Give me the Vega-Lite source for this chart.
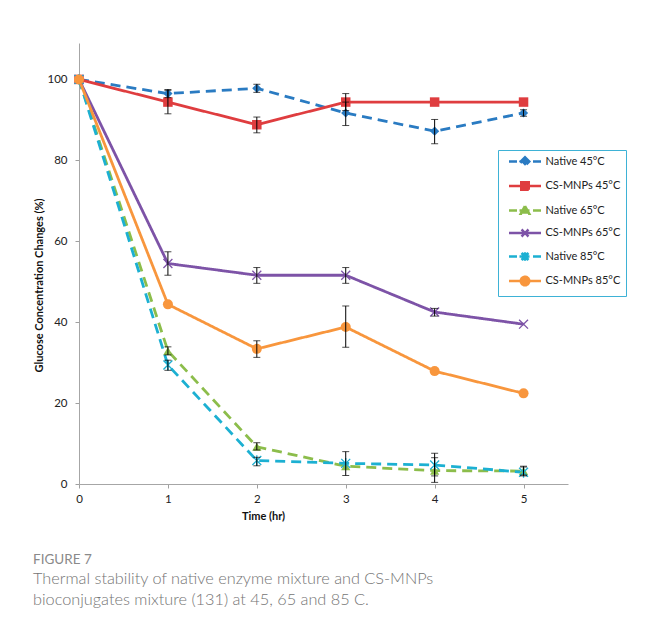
{
  "$schema": "https://vega.github.io/schema/vega-lite/v6.json",
  "width": 489,
  "height": 441,
  "autosize": {"type": "none"},
  "padding": {"left": 79, "top": 43, "right": 78, "bottom": 149},
  "background": "white",
  "config": {"view": {"stroke": null}},
  "title": {
    "text": "FIGURE 7",
    "subtitle": ["Thermal stability of native enzyme mixture and CS-MNPs", "bioconjugates mixture (131) at 45, 65 and 85 C."],
    "orient": "bottom",
    "anchor": "start",
    "frame": "group",
    "dx": -46,
    "offset": 32,
    "font": "Lato",
    "fontSize": 13.5,
    "fontWeight": "normal",
    "color": "#8a8a8a",
    "subtitleFont": "Lato",
    "subtitleFontSize": 16.3,
    "subtitleFontWeight": 300,
    "subtitleColor": "#747474",
    "subtitlePadding": 4,
    "subtitleLineHeight": 21.5
  },
  "data": {
    "values": [
      {"series": "Native 45°C", "time": 0, "value": 100, "lo": null, "hi": null},
      {"series": "Native 45°C", "time": 1, "value": 96.5, "lo": 95.5, "hi": 97.5},
      {"series": "Native 45°C", "time": 2, "value": 97.8, "lo": 96.8, "hi": 98.8},
      {"series": "Native 45°C", "time": 3, "value": 91.7, "lo": 88.6, "hi": 94.4},
      {"series": "Native 45°C", "time": 4, "value": 87.2, "lo": 84.1, "hi": 90.1},
      {"series": "Native 45°C", "time": 5, "value": 91.7, "lo": 90.9, "hi": 92.5},
      {"series": "CS-MNPs 45°C", "time": 0, "value": 100, "lo": null, "hi": null},
      {"series": "CS-MNPs 45°C", "time": 1, "value": 94.4, "lo": 91.5, "hi": 97.3},
      {"series": "CS-MNPs 45°C", "time": 2, "value": 88.8, "lo": 86.8, "hi": 90.7},
      {"series": "CS-MNPs 45°C", "time": 3, "value": 94.4, "lo": 92.3, "hi": 96.5},
      {"series": "CS-MNPs 45°C", "time": 4, "value": 94.4, "lo": null, "hi": null},
      {"series": "CS-MNPs 45°C", "time": 5, "value": 94.4, "lo": null, "hi": null},
      {"series": "Native 65°C", "time": 0, "value": 100, "lo": null, "hi": null},
      {"series": "Native 65°C", "time": 1, "value": 32.9, "lo": 31.9, "hi": 33.9},
      {"series": "Native 65°C", "time": 2, "value": 9.2, "lo": 8.4, "hi": 10.2},
      {"series": "Native 65°C", "time": 3, "value": 4.4, "lo": 2.1, "hi": 8.0},
      {"series": "Native 65°C", "time": 4, "value": 3.3, "lo": 0.4, "hi": 6.5},
      {"series": "Native 65°C", "time": 5, "value": 3.2, "lo": 2.2, "hi": 4.2},
      {"series": "CS-MNPs 65°C", "time": 0, "value": 100, "lo": null, "hi": null},
      {"series": "CS-MNPs 65°C", "time": 1, "value": 54.5, "lo": 51.6, "hi": 57.4},
      {"series": "CS-MNPs 65°C", "time": 2, "value": 51.6, "lo": 49.6, "hi": 53.5},
      {"series": "CS-MNPs 65°C", "time": 3, "value": 51.6, "lo": 49.6, "hi": 53.5},
      {"series": "CS-MNPs 65°C", "time": 4, "value": 42.5, "lo": 41.5, "hi": 43.4},
      {"series": "CS-MNPs 65°C", "time": 5, "value": 39.5, "lo": null, "hi": null},
      {"series": "Native 85°C", "time": 0, "value": 100, "lo": null, "hi": null},
      {"series": "Native 85°C", "time": 1, "value": 29.4, "lo": 28.1, "hi": 30.6},
      {"series": "Native 85°C", "time": 2, "value": 5.8, "lo": 4.5, "hi": 6.6},
      {"series": "Native 85°C", "time": 3, "value": 5.1, "lo": null, "hi": null},
      {"series": "Native 85°C", "time": 4, "value": 4.7, "lo": 2.0, "hi": 7.6},
      {"series": "Native 85°C", "time": 5, "value": 2.9, "lo": 2.0, "hi": 4.4},
      {"series": "CS-MNPs 85°C", "time": 0, "value": 100, "lo": null, "hi": null},
      {"series": "CS-MNPs 85°C", "time": 1, "value": 44.4, "lo": null, "hi": null},
      {"series": "CS-MNPs 85°C", "time": 2, "value": 33.4, "lo": 31.3, "hi": 35.4},
      {"series": "CS-MNPs 85°C", "time": 3, "value": 38.8, "lo": 33.8, "hi": 44.0},
      {"series": "CS-MNPs 85°C", "time": 4, "value": 27.9, "lo": null, "hi": null},
      {"series": "CS-MNPs 85°C", "time": 5, "value": 22.4, "lo": null, "hi": null}
    ]
  },
  "encoding": {
    "x": {
      "field": "time", "type": "quantitative",
      "scale": {"domain": [0, 5.5], "nice": false, "zero": false},
      "axis": {
        "values": [0, 1, 2, 3, 4, 5], "format": "d", "title": "Time (hr)",
        "titleFont": "Lato", "titleFontWeight": "bold", "titleFontSize": 11, "titleColor": "#111",
        "titleX": 184, "titleY": 32, "titleBaseline": "middle", "titleAlign": "center",
        "labelFont": "Lato", "labelFontSize": 11.5, "labelColor": "#222", "labelPadding": 5,
        "labelFlush": false, "labelOverlap": false,
        "tickSize": 4, "tickColor": "#a0a0a0", "domainColor": "#a6a6a6", "grid": false
      }
    },
    "y": {"field": "value", "type": "quantitative"}
  },
  "layer": [
    {
      "mark": {"type": "line", "strokeWidth": 2.8},
      "encoding": {
        "y": {
          "field": "value", "type": "quantitative",
          "scale": {"domain": [0, 109], "nice": false},
          "axis": {
            "values": [0, 20, 40, 60, 80, 100], "title": "Glucose Concentration Changes (%)",
            "titleFont": "Lato", "titleFontWeight": "bold", "titleFontSize": 11, "titleColor": "#111",
            "titleX": -40, "titleY": 242, "titleAngle": -90, "titleBaseline": "middle", "titleAlign": "center",
            "labelFont": "Lato", "labelFontSize": 11.5, "labelColor": "#222", "labelPadding": 8,
            "tickSize": 4, "tickColor": "#a0a0a0", "domainColor": "#a6a6a6", "grid": false
          }
        },
        "color": {
          "field": "series", "type": "nominal",
          "scale": {
            "domain": ["Native 45°C", "CS-MNPs 45°C", "Native 65°C", "CS-MNPs 65°C", "Native 85°C", "CS-MNPs 85°C"],
            "range": ["#2a7bc2", "#df3d3f", "#8cbd4b", "#7d53a7", "#1cb0d2", "#f8963d"]
          },
          "legend": {
            "orient": "none", "legendX": 419, "legendY": 107, "title": null,
            "padding": 5, "strokeColor": "#3eb2d6", "fillColor": "white",
            "labelFont": "Lato", "labelFontSize": 11, "labelColor": "#222",
            "symbolSize": 100, "symbolStrokeWidth": 2.5, "symbolOffset": 15.5, "labelOffset": 14,
            "rowPadding": 5.5,
            "encode": {
              "symbols": {
                "update": {
                  "shape": {"signal": "datum.value === 'Native 45°C' ? 'M-3.2,0H-1.6M-1.1,0H1.1M1.6,0H3.2M0,-0.85L0.85,0L0,0.85L-0.85,0Z' : datum.value === 'CS-MNPs 45°C' ? 'M-3.2,0H3.2M-0.75,-0.75H0.75V0.75H-0.75Z' : datum.value === 'Native 65°C' ? 'M-3.2,0H-1.6M-1.1,0H1.1M1.6,0H3.2M0,-0.9L0.85,0.65L-0.85,0.65Z' : datum.value === 'CS-MNPs 65°C' ? 'M-3.2,0H3.2M-0.7,-0.7L0.7,0.7M-0.7,0.7L0.7,-0.7' : datum.value === 'Native 85°C' ? 'M-3.2,0H-1.6M-1.1,0H1.1M1.6,0H3.2M-0.7,-0.7L0.7,0.7M-0.7,0.7L0.7,-0.7M0,-0.85V0.85' : 'M-3.2,0H3.2M0.85,0A0.85,0.85 0 1,1 -0.85,0A0.85,0.85 0 1,1 0.85,0Z'"},
                  "size": {"value": 100},
                  "fill": {"scale": "color", "field": "value"},
                  "stroke": {"scale": "color", "field": "value"},
                  "strokeWidth": {"value": 2.5},
                  "strokeDash": {"value": [1, 0]},
                  "opacity": {"value": 1}
                }
              }
            }
          }
        },
        "strokeDash": {
          "field": "series", "type": "nominal", "legend": null,
          "scale": {
            "domain": ["Native 45°C", "CS-MNPs 45°C", "Native 65°C", "CS-MNPs 65°C", "Native 85°C", "CS-MNPs 85°C"],
            "range": [[10, 6], [1, 0], [10, 6], [1, 0], [10, 6], [1, 0]]
          }
        }
      }
    },
    {
      "transform": [{"filter": {"field": "series", "equal": "Native 45°C"}}],
      "mark": {"type": "point", "shape": "diamond", "filled": true, "opacity": 1, "size": 85, "color": "#2a7bc2"}
    },
    {
      "transform": [{"filter": {"field": "series", "equal": "CS-MNPs 45°C"}}],
      "mark": {"type": "point", "shape": "square", "filled": true, "opacity": 1, "size": 90, "color": "#df3d3f"}
    },
    {
      "transform": [{"filter": {"field": "series", "equal": "Native 65°C"}}],
      "mark": {"type": "point", "shape": "triangle-up", "filled": true, "opacity": 1, "size": 85, "color": "#8cbd4b"}
    },
    {
      "transform": [{"filter": {"field": "series", "equal": "CS-MNPs 65°C"}}],
      "mark": {"type": "point", "shape": "M-1,-1L1,1M-1,1L1,-1", "filled": false, "opacity": 1, "size": 80, "strokeWidth": 1.3, "color": "#7d53a7"}
    },
    {
      "transform": [{"filter": {"field": "series", "equal": "Native 85°C"}}],
      "mark": {"type": "point", "shape": "M-1,-1L1,1M-1,1L1,-1M0,-1.2V1.2", "filled": false, "opacity": 1, "size": 80, "strokeWidth": 1.3, "color": "#1cb0d2"}
    },
    {
      "transform": [{"filter": {"field": "series", "equal": "CS-MNPs 85°C"}}],
      "mark": {"type": "point", "shape": "circle", "filled": true, "opacity": 1, "size": 100, "color": "#f8963d"}
    },
    {
      "transform": [{"filter": "isValid(datum.lo)"}],
      "mark": {"type": "rule", "color": "black", "strokeWidth": 1},
      "encoding": {
        "y": {"field": "lo", "type": "quantitative"},
        "y2": {"field": "hi"}
      }
    },
    {
      "transform": [{"filter": "isValid(datum.lo)"}],
      "mark": {"type": "tick", "color": "black", "orient": "horizontal", "size": 7, "thickness": 1},
      "encoding": {
        "y": {"field": "lo", "type": "quantitative"}
      }
    },
    {
      "transform": [{"filter": "isValid(datum.hi)"}],
      "mark": {"type": "tick", "color": "black", "orient": "horizontal", "size": 7, "thickness": 1},
      "encoding": {
        "y": {"field": "hi", "type": "quantitative"}
      }
    }
  ]
}
